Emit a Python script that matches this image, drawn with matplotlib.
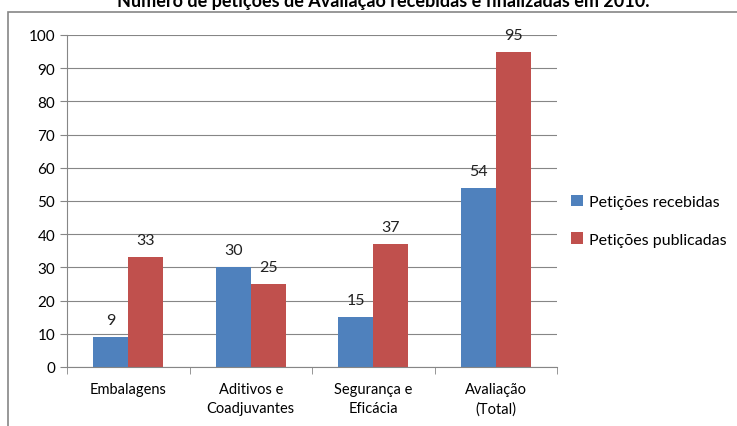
import matplotlib.pyplot as plt
import numpy as np
from matplotlib.patches import Rectangle

# Petições por área
categorias = ['Embalagens', 'Aditivos e\nCoadjuvantes', 'Segurança e\nEficácia', 'Avaliação\n(Total)']
recebidas = [9, 30, 15, 54]
publicadas = [33, 25, 37, 95]

plt.rcParams['font.family'] = ['Lato', 'DejaVu Sans']

fig = plt.figure(figsize=(7.37, 4.27), dpi=100)
ax = fig.add_axes([0.0909, 0.1382, 0.665, 0.7775])

x = np.arange(len(categorias))
w = 0.285
b1 = ax.bar(x - w / 2, recebidas, w, color='#4F81BD', label='Petições recebidas')
b2 = ax.bar(x + w / 2, publicadas, w, color='#C0504D', label='Petições publicadas')

for bars, vals in ((b1, recebidas), (b2, publicadas)):
    for rect, v in zip(bars, vals):
        ax.text(rect.get_x() + rect.get_width() / 2, v + 3, str(v),
                ha='center', va='bottom', fontsize=11.5, color='#222222')

ax.set_xlim(-0.5, len(categorias) - 0.5)
ax.set_ylim(0, 100)
ax.set_yticks(range(0, 101, 10))
ax.set_xticks(x)
ax.set_xticklabels(categorias, fontsize=10.5, linespacing=1.45)
ax.tick_params(axis='y', labelsize=11, length=5, color='#868686')
ax.tick_params(axis='x', length=0, pad=11)
ax.set_xticks(np.arange(-0.5, len(categorias)), minor=True)
ax.tick_params(axis='x', which='minor', length=5, color='#868686')
ax.grid(axis='y', color='#868686', linewidth=0.8)
ax.set_axisbelow(True)
for s in ('top', 'right'):
    ax.spines[s].set_visible(False)
for s in ('left', 'bottom'):
    ax.spines[s].set_color('#868686')

ax.legend(loc='center left', bbox_to_anchor=(1.0, 0.44), frameon=False,
          fontsize=11.5, handlelength=0.7, handleheight=0.7, labelspacing=1.45,
          handletextpad=0.4)

# moldura do gráfico
fig.patches.append(Rectangle((8 / 737, -0.05), 1.0, 1 - 13 / 427 + 0.05,
                             transform=fig.transFigure, fill=False,
                             edgecolor='#868686', linewidth=1.2))

fig.text(0.52, 1 - 7 / 427, 'Número de petições de Avaliação recebidas e finalizadas em 2010.',
         ha='center', va='baseline', fontsize=13, fontweight='bold')

fig.savefig('out.png', dpi=100)
